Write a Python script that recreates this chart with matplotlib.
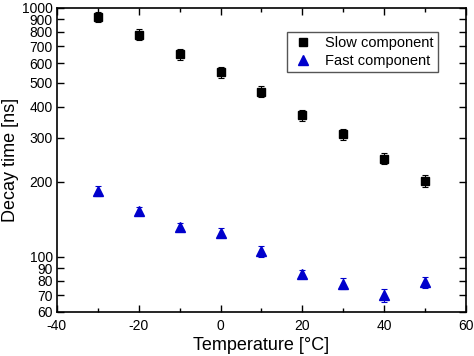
import matplotlib
matplotlib.use("Agg")
import matplotlib.pyplot as plt
from matplotlib.ticker import FixedLocator, NullFormatter, MultipleLocator

plt.rcParams['font.family'] = ['Liberation Sans', 'DejaVu Sans']
plt.rcParams['axes.unicode_minus'] = False

# data
temperature = [-30, -20, -10, 0, 10, 20, 30, 40, 50]
slow_decay = [920, 780, 650, 550, 460, 370, 310, 248, 202]
slow_err = [46, 39, 33, 28, 23, 19, 16, 13, 11]
fast_decay = [184, 153, 132, 125, 105, 85, 78, 70, 79]
fast_err = [8, 6, 5, 5, 5, 3, 4, 4, 4]

y_ticks = [60, 70, 80, 90, 100, 200, 300, 400, 500, 600, 700, 800, 900, 1000]

fig = plt.figure(figsize=(4.74, 3.56), dpi=100)
ax = fig.add_axes([0.120, 0.124, 0.863, 0.854])

ax.errorbar(temperature, slow_decay, yerr=slow_err, fmt='s', color='black',
            markersize=6, capsize=2.5, elinewidth=0.8, capthick=0.8,
            label='Slow component')
ax.errorbar(temperature, fast_decay, yerr=fast_err, fmt='^', color='#0000cc',
            markersize=7, capsize=2.5, elinewidth=0.8, capthick=0.8,
            label='Fast component')

ax.set_yscale('log')
ax.set_ylim(60, 1000)
ax.set_xlim(-40, 60)
ax.yaxis.set_major_locator(FixedLocator(y_ticks))
ax.yaxis.set_major_formatter(plt.FixedFormatter([str(t) for t in y_ticks]))
ax.yaxis.set_minor_formatter(NullFormatter())
ax.yaxis.set_minor_locator(FixedLocator([]))
ax.xaxis.set_major_locator(MultipleLocator(20))
ax.xaxis.set_minor_locator(MultipleLocator(10))

ax.tick_params(which='both', direction='in', top=True, right=True,
               labelsize=10, width=1)
ax.tick_params(axis='y', pad=3)
ax.tick_params(axis='x', pad=5)
ax.tick_params(which='major', length=5)
ax.tick_params(which='minor', length=3)
for s in ax.spines.values():
    s.set_linewidth(1.2)

ax.set_xlabel('Temperature [°C]', fontsize=13, labelpad=3)
ax.set_ylabel('Decay time [ns]', fontsize=13)
ax.yaxis.set_label_coords(-0.093, 0.5)

handles, labels = ax.get_legend_handles_labels()
handles = [h[0] for h in handles]
ax.legend(handles, labels, loc='upper right', bbox_to_anchor=(0.932, 0.921),
          borderaxespad=0, fontsize=10.5, frameon=True, fancybox=False,
          edgecolor='#555555', framealpha=1, handletextpad=0.8, borderpad=0.3,
          labelspacing=0.25, handlelength=1.5)

fig.savefig('out.png', dpi=100)
